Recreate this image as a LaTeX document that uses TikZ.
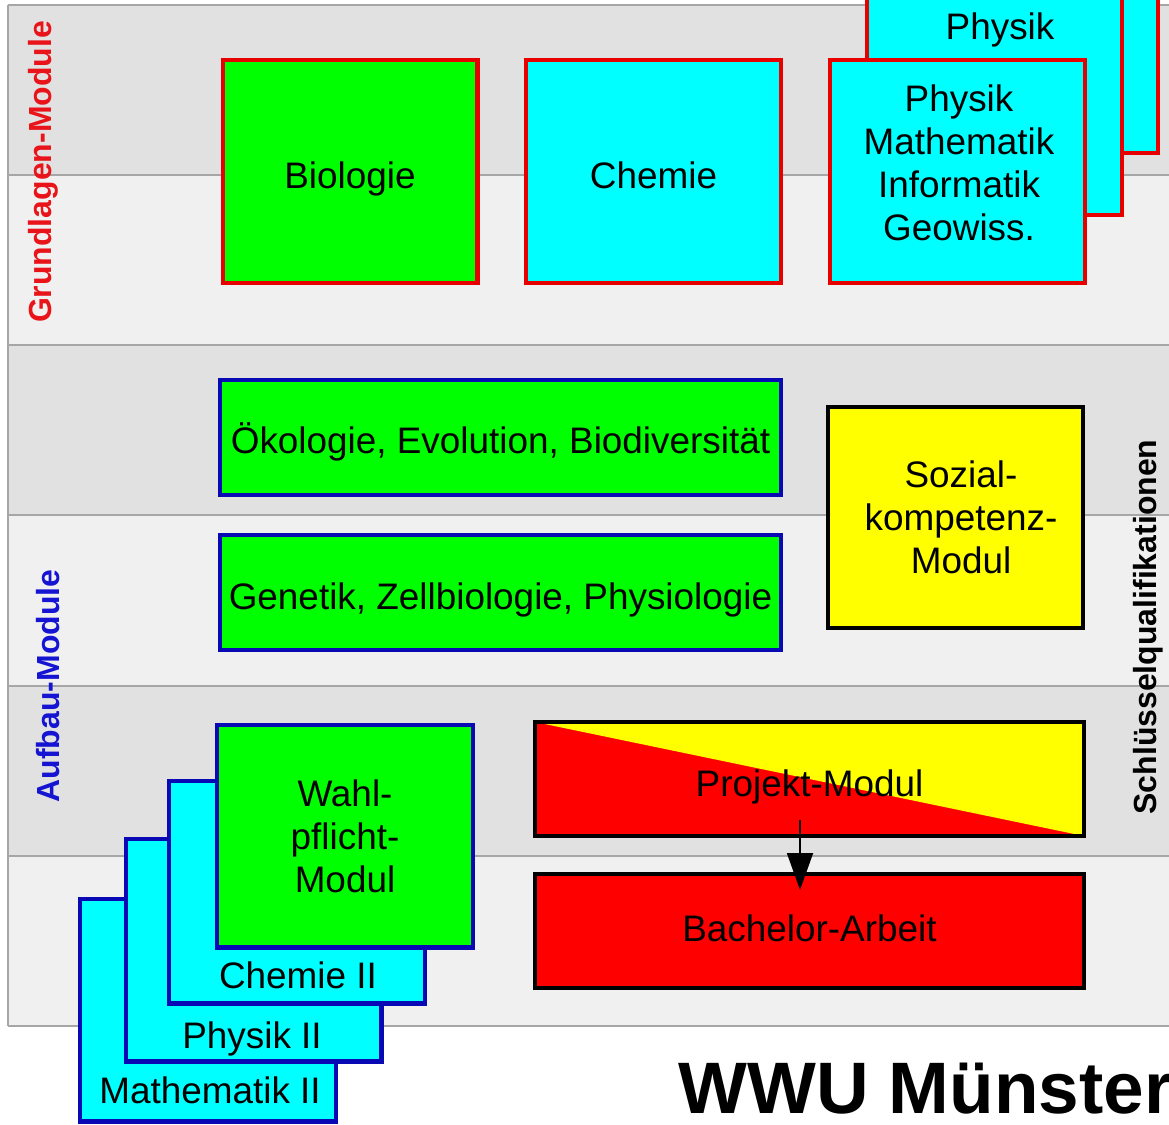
\documentclass[tikz,border=0pt]{standalone}
\usepackage{fontspec}
\setmainfont{Liberation Sans}
\usetikzlibrary{arrows.meta, positioning}
\definecolor{bandDark}{HTML}{E1E1E1}
\definecolor{bandLight}{HTML}{F0F0F0}
\definecolor{bandLine}{HTML}{A6A6A6}
\definecolor{grundRed}{HTML}{E8141A}
\definecolor{aufbauBlue}{HTML}{1414D2}
\definecolor{modGreen}{HTML}{00FF00}
\definecolor{modCyan}{HTML}{00FFFF}
\definecolor{modYellow}{HTML}{FFFF00}
\definecolor{modRed}{HTML}{FF0000}
\definecolor{edgeRed}{HTML}{E60000}
\definecolor{edgeBlue}{HTML}{0808B4}
\tikzset{>=stealth}

\begin{document}
\begin{tikzpicture}[x=0.02cm, y=-0.02cm,
  modul/.style={draw, line width=2.3pt, inner sep=0pt, align=center, font=\fontsize{21}{24.5}\selectfont},
  grund/.style={modul, draw=edgeRed, minimum width=5.1cm, minimum height=4.46cm},
  aufbau/.style={modul, draw=edgeBlue},
  breit/.style={minimum width=11.22cm, minimum height=2.3cm},
  quadrat/.style={minimum width=5.12cm, minimum height=4.46cm},
  lang/.style={modul, draw=black, minimum width=10.98cm, minimum height=2.28cm},
  tief/.style={text height=#1, text depth=0pt},
  schild/.style={rotate=90, font=\bfseries\fontsize{18.2}{20}\selectfont},
  rest/.style={anchor=base, font=\fontsize{21}{24.5}\selectfont}
]
\useasboundingbox (0,0) rectangle (1169,1125);
\clip (0,0) rectangle (1169,1125);

% bands
\foreach \ya/\yb/\col in {5/175/bandDark, 175/345/bandLight, 345/515/bandDark,
                          515/686/bandLight, 686/856/bandDark, 856/1026/bandLight}
  \fill[\col] (8,\ya) rectangle (1180,\yb);
\foreach \yl in {5,175,345,515,686,856,1026}
  \draw[bandLine, line width=0.9pt] (8,\yl) -- (1180,\yl);
\draw[bandLine, line width=0.9pt] (8,5) -- (8,1026);

% Grundlagen
\node[grund, tief=0.7cm, fill=modGreen] (bio) at (350,171.5) {Biologie};
\node[grund, tief=0.7cm, fill=modCyan] (chem) at (653.5,171.5) {Chemie};
\node[grund, fill=modCyan] (physC) at (1030.5,41.5) {};
\node[grund, fill=modCyan] (physB) at (994.5,103.5) {};
\node[rest] (physBtxt) at (1000,40) {Physik};
\node[grund, fill=modCyan] (physA) at (957.5,171.5) {};
\node[align=center, font=\fontsize{21}{24.5}\selectfont] (physAtxt) at (959,163) {Physik\\Mathematik\\Informatik\\Geowiss.};

% Aufbau
\node[aufbau, breit, tief=0.64cm, fill=modGreen] (oeko) at (500.5,437.5) {Ökologie, Evolution, Biodiversität};
\node[aufbau, breit, tief=0.66cm, fill=modGreen] (gen) at (500.5,592.5) {Genetik, Zellbiologie, Physiologie};
\node[modul, fill=modYellow, minimum width=5.1cm, minimum height=4.42cm] (sozial) at (955.5,517.5) {};
\node[align=center, font=\fontsize{21}{24.5}\selectfont] (sozialtxt) at (961,517.5) {Sozial-\\kompetenz-\\Modul};

\node[aufbau, quadrat, fill=modCyan] (math2) at (208,1010) {};
\node[rest] (math2txt) at (210,1103) {Mathematik II};
\node[aufbau, quadrat, fill=modCyan] (phys2) at (253.5,950) {};
\node[rest] (phys2txt) at (252,1048) {Physik II};
\node[aufbau, quadrat, fill=modCyan] (chem2) at (297,892) {};
\node[rest] (chem2txt) at (298,988) {Chemie II};
\node[aufbau, quadrat, fill=modGreen] (wahl) at (345,836) {Wahl-\\pflicht-\\Modul};

% Projekt und Bachelor
\node[lang, tief=0.68cm, fill=modRed, path picture={
    \fill[modYellow] (path picture bounding box.north west) -- (path picture bounding box.north east)
      -- (path picture bounding box.south east) -- cycle;}] (proj) at (809.5,779) {Projekt-Modul};
\node[lang, tief=0.42cm, fill=modRed] (bach) at (809.5,931) {Bachelor-Arbeit};
\draw[line width=1.1pt, -{Triangle[length=0.74cm, width=0.52cm]}]
  ([xshift=-0.19cm, yshift=0.36cm]proj.south) -- ([xshift=-0.19cm, yshift=-0.36cm]bach.north);

% Beschriftung
\node[schild, text=grundRed] (grundlbl) at (43,172) {Grundlagen-Module};
\node[schild, text=aufbauBlue] (aufbaulbl) at (48,686) {Aufbau-Module};
\node[schild] (schluessel) at (1148,627) {Schlüsselqualifikationen};
\node[anchor=base west, inner sep=0pt, font=\bfseries\fontsize{41.5}{45}\selectfont] (wwu) at (678,1113) {WWU Münster};
\end{tikzpicture}
\end{document}
